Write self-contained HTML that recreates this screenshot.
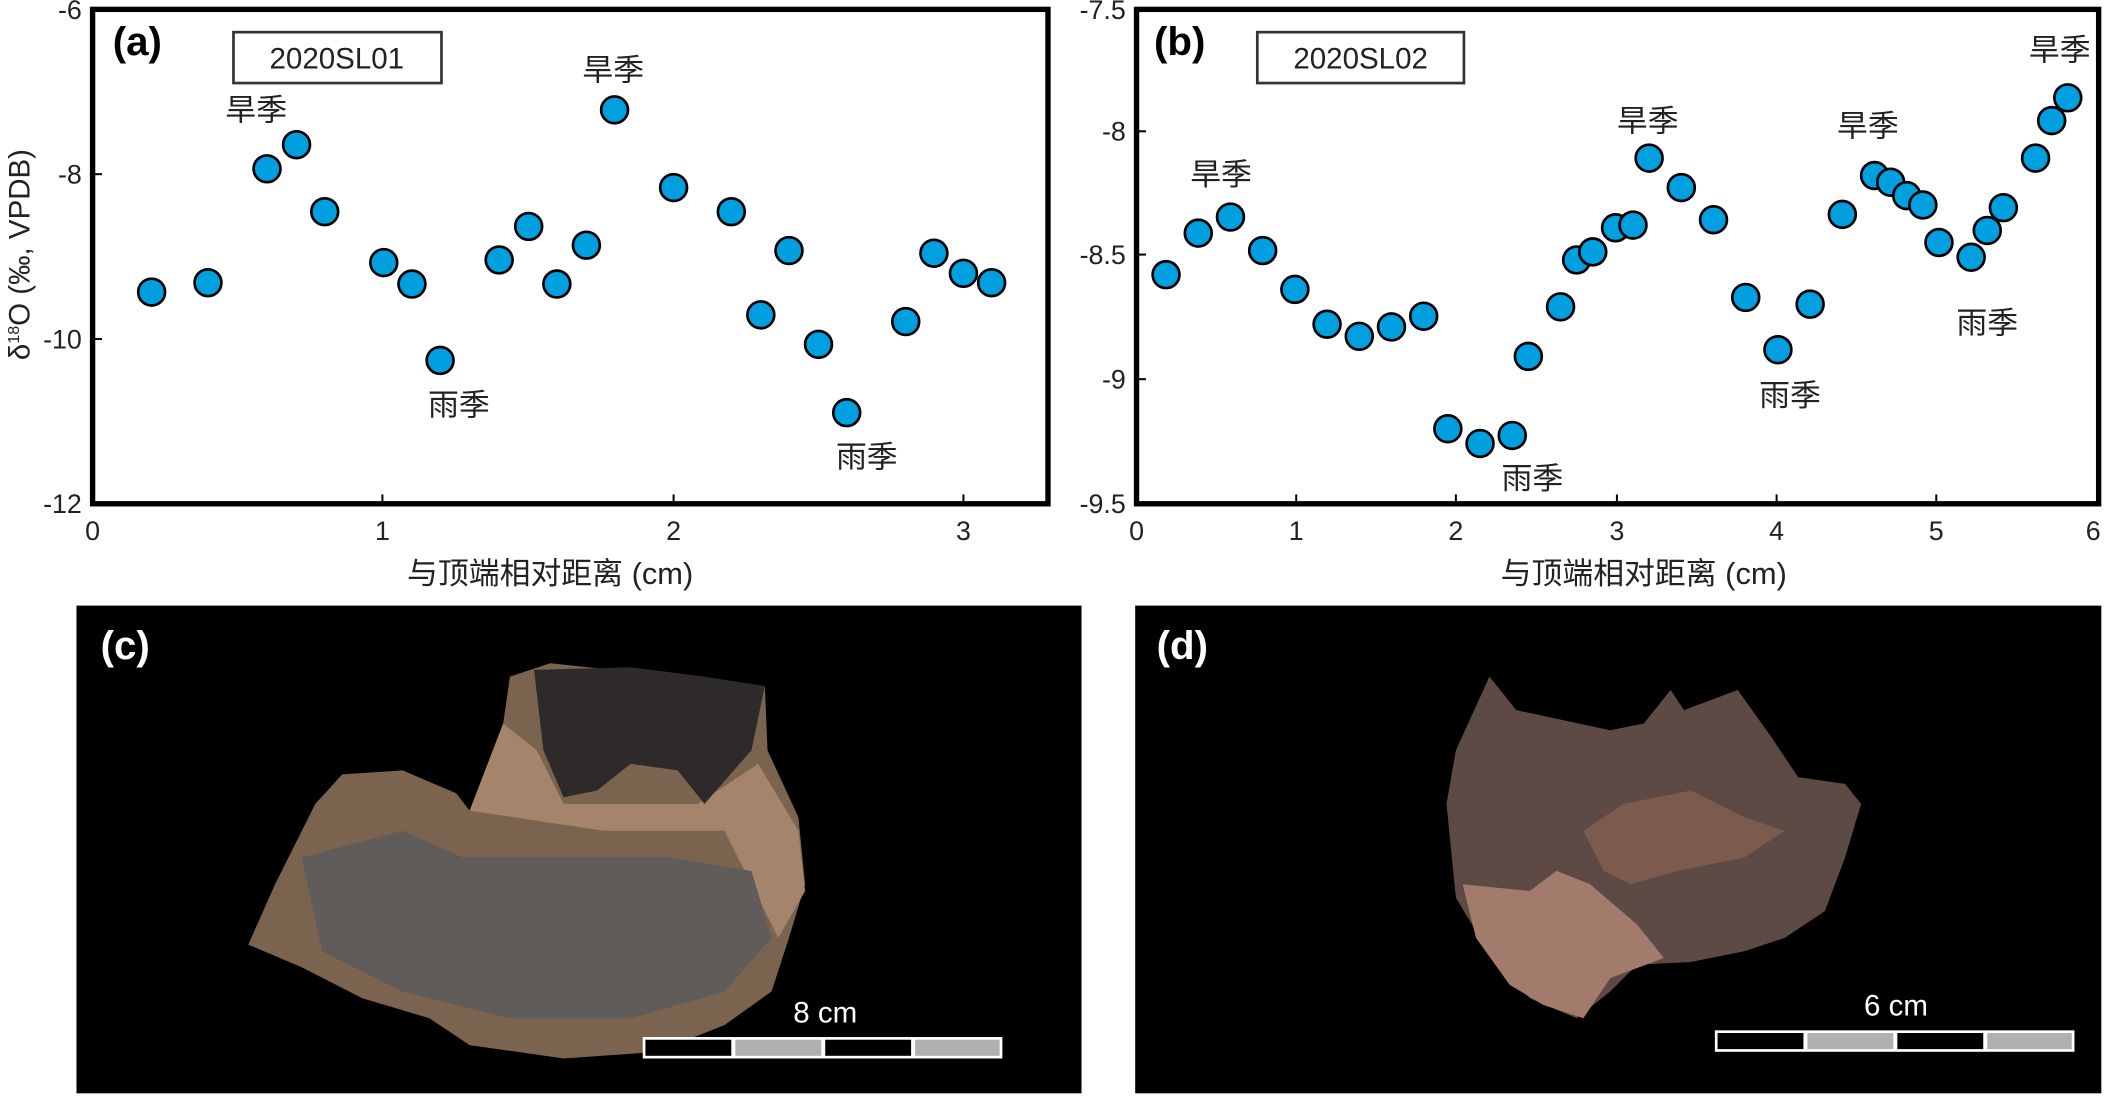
<!DOCTYPE html>
<html><head><meta charset="utf-8">
<style>
html,body{margin:0;padding:0;background:#fff;width:2104px;height:1096px;overflow:hidden}
svg{display:block}
text{font-family:"Liberation Sans","Noto Sans CJK SC",sans-serif;fill:#222}
.t{font-size:20px}
.cn{font-size:23px}
.lab{font-size:30px;font-weight:bold;fill:#000}
</style></head><body>
<svg width="2104" height="1096" viewBox="0 0 1568 818" preserveAspectRatio="none" xmlns="http://www.w3.org/2000/svg">
<rect width="1568" height="818" fill="#fff"/>
<g>
<rect x="69" y="7" width="712" height="369" fill="none" stroke="#000" stroke-width="4"/>
<g stroke="#000" stroke-width="1.5">
<line x1="285" y1="376" x2="285" y2="369"/><line x1="502" y1="376" x2="502" y2="369"/><line x1="718" y1="376" x2="718" y2="369"/>
<line x1="69" y1="130" x2="76" y2="130"/><line x1="69" y1="253" x2="76" y2="253"/>
</g>
<g class="t" text-anchor="end">
<text x="61" y="14">-6</text><text x="61" y="137">-8</text><text x="61" y="260">-10</text><text x="61" y="383">-12</text>
</g>
<g class="t" text-anchor="middle">
<text x="69" y="403">0</text><text x="285" y="403">1</text><text x="502" y="403">2</text><text x="718" y="403">3</text>
</g>
<text x="410" y="436" text-anchor="middle" style="font-size:23px">与顶端相对距离 (cm)</text>
<text transform="translate(22,190) rotate(-90)" text-anchor="middle" style="font-size:22px">δ<tspan dy="-8" style="font-size:12px">18</tspan><tspan dy="8">O (‰, VPDB)</tspan></text>
<text class="lab" x="84" y="41">(a)</text>
<rect x="174" y="24" width="155" height="38" fill="#fff" stroke="#333" stroke-width="2"/>
<text x="251" y="51" text-anchor="middle" style="font-size:22px">2020SL01</text>
<g class="cn" text-anchor="middle">
<text x="191" y="90">旱季</text><text x="457" y="60">旱季</text><text x="342" y="310">雨季</text><text x="646" y="349">雨季</text>
</g>
<g fill="#00a0e0" stroke="#000" stroke-width="2">
<circle cx="113" cy="218" r="10"/><circle cx="155" cy="211" r="10"/><circle cx="199" cy="126" r="10"/><circle cx="221" cy="108" r="10"/><circle cx="242" cy="158" r="10"/><circle cx="286" cy="196" r="10"/><circle cx="307" cy="212" r="10"/><circle cx="328" cy="269" r="10"/><circle cx="372" cy="194" r="10"/><circle cx="394" cy="169" r="10"/><circle cx="415" cy="212" r="10"/><circle cx="437" cy="183" r="10"/><circle cx="458" cy="82" r="10"/><circle cx="502" cy="140" r="10"/><circle cx="545" cy="158" r="10"/><circle cx="567" cy="235" r="10"/><circle cx="588" cy="187" r="10"/><circle cx="610" cy="257" r="10"/><circle cx="631" cy="308" r="10"/><circle cx="675" cy="240" r="10"/><circle cx="696" cy="189" r="10"/><circle cx="718" cy="204" r="10"/><circle cx="739" cy="211" r="10"/>
</g>
</g>
<g>
<rect x="847" y="7" width="717" height="369" fill="none" stroke="#000" stroke-width="4"/>
<g stroke="#000" stroke-width="1.5">
<line x1="966" y1="376" x2="966" y2="369"/><line x1="1085" y1="376" x2="1085" y2="369"/><line x1="1205" y1="376" x2="1205" y2="369"/><line x1="1324" y1="376" x2="1324" y2="369"/><line x1="1443" y1="376" x2="1443" y2="369"/>
<line x1="847" y1="98" x2="854" y2="98"/><line x1="847" y1="190" x2="854" y2="190"/><line x1="847" y1="283" x2="854" y2="283"/>
</g>
<g class="t" text-anchor="end">
<text x="839" y="14">-7.5</text><text x="839" y="105">-8</text><text x="839" y="197">-8.5</text><text x="839" y="290">-9</text><text x="839" y="383">-9.5</text>
</g>
<g class="t" text-anchor="middle">
<text x="847" y="403">0</text><text x="966" y="403">1</text><text x="1085" y="403">2</text><text x="1205" y="403">3</text><text x="1324" y="403">4</text><text x="1443" y="403">5</text><text x="1560" y="403">6</text>
</g>
<text x="1225" y="436" text-anchor="middle" style="font-size:23px">与顶端相对距离 (cm)</text>
<text class="lab" x="860" y="41">(b)</text>
<rect x="937" y="24" width="154" height="38" fill="#fff" stroke="#333" stroke-width="2"/>
<text x="1014" y="51" text-anchor="middle" style="font-size:22px">2020SL02</text>
<g class="cn" text-anchor="middle">
<text x="910" y="138">旱季</text><text x="1228" y="98">旱季</text><text x="1392" y="102">旱季</text><text x="1535" y="45">旱季</text>
<text x="1142" y="365">雨季</text><text x="1334" y="303">雨季</text><text x="1481" y="249">雨季</text>
</g>
<g fill="#00a0e0" stroke="#000" stroke-width="2">
<circle cx="869" cy="205" r="10"/><circle cx="893" cy="174" r="10"/><circle cx="917" cy="162" r="10"/><circle cx="941" cy="187" r="10"/><circle cx="965" cy="216" r="10"/><circle cx="989" cy="242" r="10"/><circle cx="1013" cy="251" r="10"/><circle cx="1037" cy="244" r="10"/><circle cx="1061" cy="236" r="10"/><circle cx="1079" cy="320" r="10"/><circle cx="1103" cy="331" r="10"/><circle cx="1127" cy="325" r="10"/><circle cx="1139" cy="266" r="10"/><circle cx="1163" cy="229" r="10"/><circle cx="1175" cy="194" r="10"/><circle cx="1187" cy="188" r="10"/><circle cx="1204" cy="170" r="10"/><circle cx="1217" cy="168" r="10"/><circle cx="1229" cy="118" r="10"/><circle cx="1253" cy="140" r="10"/><circle cx="1277" cy="164" r="10"/><circle cx="1301" cy="222" r="10"/><circle cx="1325" cy="261" r="10"/><circle cx="1349" cy="227" r="10"/><circle cx="1373" cy="160" r="10"/><circle cx="1397" cy="131" r="10"/><circle cx="1409" cy="136" r="10"/><circle cx="1421" cy="146" r="10"/><circle cx="1433" cy="153" r="10"/><circle cx="1445" cy="181" r="10"/><circle cx="1469" cy="192" r="10"/><circle cx="1481" cy="172" r="10"/><circle cx="1493" cy="155" r="10"/><circle cx="1517" cy="118" r="10"/><circle cx="1529" cy="90" r="10"/><circle cx="1541" cy="73" r="10"/>
</g>
</g>
<rect x="57" y="452" width="749" height="364" fill="#000"/>
<path d="M235,600 L255,578 L300,575 L340,592 L350,605 L375,540 L380,505 L410,495 L570,512 L572,560 L595,610 L600,660 L588,700 L575,740 L540,765 L490,785 L420,790 L350,780 L320,760 L270,745 L225,722 L185,705 L205,660 Z" fill="#7a6450"/>
<path d="M350,605 L375,540 L400,560 L420,600 L520,600 L565,570 L595,620 L600,665 L580,700 L540,620 L450,620 Z" fill="#a4846a"/>
<path d="M225,640 L300,620 L345,640 L500,640 L560,650 L575,700 L540,740 L470,760 L380,760 L300,740 L240,710 Z" fill="#5f5c5a"/>
<path d="M398,500 L470,498 L525,505 L570,512 L560,560 L525,600 L505,575 L470,570 L445,590 L420,595 L405,560 Z" fill="#2e2a29"/>
<text x="75" y="492" style="font-size:30px;font-weight:bold;fill:#fff">(c)</text>
<text x="615" y="763" text-anchor="middle" style="font-size:22px;fill:#fff">8 cm</text>
<rect x="479" y="774" width="268" height="16" fill="#fff"/>
<rect x="481" y="776" width="64" height="12" fill="#000"/><rect x="548" y="776" width="64" height="12" fill="#b0b0b0"/><rect x="615" y="776" width="64" height="12" fill="#000"/><rect x="682" y="776" width="63" height="12" fill="#b0b0b0"/>
<rect x="846" y="452" width="720" height="364" fill="#000"/>
<path d="M1078,600 L1085,560 L1110,505 L1130,530 L1200,545 L1225,540 L1245,515 L1255,530 L1295,515 L1320,550 L1340,580 L1375,585 L1387,600 L1375,640 L1360,680 L1330,700 L1300,710 L1260,718 L1220,720 L1200,740 L1175,760 L1140,745 L1120,720 L1100,695 L1085,670 Z" fill="#5d4a44"/>
<path d="M1090,660 L1140,665 L1160,650 L1185,660 L1220,690 L1240,715 L1200,730 L1180,760 L1150,750 L1125,735 L1100,700 Z" fill="#a37b6d"/>
<path d="M1180,620 L1210,600 L1260,590 L1300,610 L1330,620 L1300,640 L1250,650 L1215,660 L1195,650 Z" fill="#7c5a4c"/>
<text x="862" y="492" style="font-size:30px;font-weight:bold;fill:#fff">(d)</text>
<text x="1413" y="758" text-anchor="middle" style="font-size:22px;fill:#fff">6 cm</text>
<rect x="1278" y="769" width="268" height="16" fill="#fff"/>
<rect x="1280" y="771" width="64" height="12" fill="#000"/><rect x="1347" y="771" width="64" height="12" fill="#b0b0b0"/><rect x="1414" y="771" width="64" height="12" fill="#000"/><rect x="1481" y="771" width="63" height="12" fill="#b0b0b0"/>
</svg>
</body></html>
